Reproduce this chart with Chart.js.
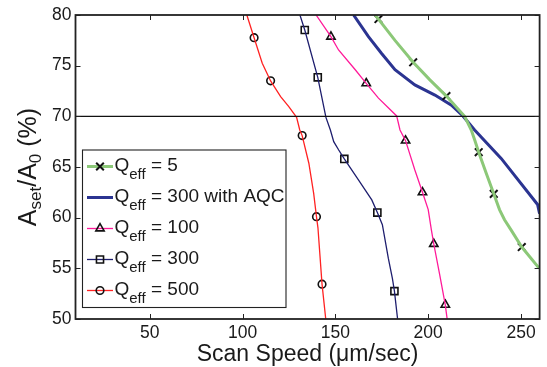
<!DOCTYPE html>
<html>
<head>
<meta charset="utf-8">
<script src="https://cdn.jsdelivr.net/npm/chart.js@4/dist/chart.umd.min.js"></script>
<style>
  html, body { margin: 0; padding: 0; background: #fff; }
  #wrap { width: 547px; height: 367px; }
</style>
</head>
<body>
<div id="wrap"><canvas id="c"></canvas></div>
<script>
// Axis ticks
const xTicks = [50, 100, 150, 200, 250];
const yTicks = [50, 55, 60, 65, 70, 75, 80];
const refLevel = 70;

// Q_eff = 5
const q5X = [171.5, 173.2, 182.1, 191.9, 200.9, 209.8, 219.6, 223.2, 225.0, 227.2, 231.2, 235.3, 238.4, 241.1, 244.6, 250.4, 259.8];
const q5Y = [80.0, 79.6, 77.5, 75.33, 73.6, 72.0, 70.0, 68.65, 67.7, 66.46, 64.4, 62.35, 60.8, 59.8, 58.8, 57.1, 55.0];
const q5MarkX = [173.2, 191.9, 209.8, 227.2, 235.3, 250.4];
const q5MarkY = [79.6, 75.33, 72.0, 66.46, 62.35, 57.1];

// Q_eff = 300 with AQC
const aqcX = [159.8, 167.8, 174.9, 182.1, 192.8, 203.6, 212.5, 218.7, 220.5, 225.0, 239.3, 258.9, 260.0];
const aqcY = [80.0, 77.86, 76.2, 74.6, 73.1, 72.1, 71.1, 70.04, 69.64, 68.65, 65.85, 61.3, 60.4];

// Q_eff = 100
const q100X = [139.6, 147.6, 151.7, 160.7, 166.6, 173.2, 183.0, 184.8, 187.8, 192.8, 196.9, 200.0, 201.7, 203.0, 206.2, 209.2, 210.2];
const q100Y = [80.0, 77.86, 76.55, 74.6, 73.26, 71.8, 70.04, 68.65, 67.6, 64.7, 62.5, 60.8, 58.8, 57.4, 54.35, 51.4, 50.0];
const q100MarkX = [147.6, 166.6, 187.8, 196.9, 203.0, 209.2];
const q100MarkY = [77.86, 73.26, 67.6, 62.5, 57.4, 51.4];

// Q_eff = 300
const q300X = [130.9, 133.5, 140.5, 144.9, 147.3, 149.1, 151.7, 154.8, 162.5, 169.6, 172.6, 175.3, 178.5, 180.7, 181.8, 183.5];
const q300Y = [80.0, 78.52, 73.85, 69.9, 68.65, 67.5, 66.7, 65.8, 63.7, 61.75, 60.5, 59.3, 56.0, 54.0, 52.75, 50.0];
const q300MarkX = [133.5, 140.5, 154.8, 172.6, 181.8];
const q300MarkY = [78.52, 73.85, 65.8, 60.5, 52.75];

// Q_eff = 500
const q500X = [102.3, 106.2, 110.6, 115.1, 120.5, 124.9, 129.1, 130.8, 132.1, 135.7, 138.3, 139.8, 140.6, 142.8, 144.8];
const q500Y = [80.0, 77.76, 75.24, 73.49, 71.94, 70.95, 69.9, 68.65, 68.1, 65.37, 62.4, 60.1, 59.0, 53.44, 50.0];
const q500MarkX = [106.2, 115.1, 132.1, 139.8, 142.8];
const q500MarkY = [77.76, 73.5, 68.1, 60.1, 53.44];

const legendValues = ['5', '300 with AQC', '100', '300', '500'];

const FONT = '"Liberation Sans", Arial, Helvetica, sans-serif';
const INK = '#1a1a1a';

const pts = (xs, ys) => xs.map((v, i) => ({ x: v, y: ys[i] }));

const series = [
  { xs: q5X, ys: q5Y, mx: q5MarkX, my: q5MarkY, color: '#8cc878', width: 3, marker: 'crossRot', r: 5.4, mw: 2 },
  { xs: aqcX, ys: aqcY, mx: null, my: null, color: '#2b3491', width: 3, marker: null, r: 0, mw: 0 },
  { xs: q100X, ys: q100Y, mx: q100MarkX, my: q100MarkY, color: '#ff1a99', width: 1.3, marker: 'triangle', r: 4.8, mw: 1.6 },
  { xs: q300X, ys: q300Y, mx: q300MarkX, my: q300MarkY, color: '#1e1e6e', width: 1.3, marker: 'rect', r: 5.0, mw: 1.6 },
  { xs: q500X, ys: q500Y, mx: q500MarkX, my: q500MarkY, color: '#ff2222', width: 1.3, marker: 'circle', r: 3.8, mw: 1.6 }
];

const datasets = [];
datasets.push({
  type: 'line',
  data: [{ x: 10, y: refLevel }, { x: 260, y: refLevel }],
  borderColor: '#111', borderWidth: 1.3, pointRadius: 0, tension: 0
});
series.forEach(s => {
  datasets.push({
    type: 'line',
    data: pts(s.xs, s.ys),
    borderColor: s.color, borderWidth: s.width,
    pointRadius: 0, tension: 0, fill: false
  });
  if (s.mx) {
    datasets.push({
      type: 'scatter',
      data: pts(s.mx, s.my),
      showLine: false,
      pointStyle: s.marker, pointRadius: s.r, pointHoverRadius: s.r,
      borderColor: '#111', borderWidth: s.mw,
      backgroundColor: 'rgba(0,0,0,0)'
    });
  }
});

function marker(ctx, s, x, y) {
  ctx.save();
  ctx.strokeStyle = '#111';
  ctx.fillStyle = 'rgba(0,0,0,0)';
  ctx.lineWidth = s.mw;
  if (Chart.helpers && Chart.helpers.drawPoint) {
    Chart.helpers.drawPoint(ctx, { pointStyle: s.marker, radius: s.r, rotation: 0, borderWidth: s.mw }, x, y);
  }
  ctx.restore();
}

// Text made of [text, size, baselineShift] pieces laid out left to right
function runWidth(ctx, parts) {
  let w = 0;
  parts.forEach(p => { ctx.font = p[1] + 'px ' + FONT; w += ctx.measureText(p[0]).width; });
  return w;
}
function drawRun(ctx, parts, x, y) {
  parts.forEach(p => {
    ctx.font = p[1] + 'px ' + FONT;
    ctx.fillText(p[0], x, y + p[2]);
    x += ctx.measureText(p[0]).width;
  });
}

const decor = {
  id: 'decor',
  afterDraw(chart) {
    const { ctx, chartArea: a, scales } = chart;
    const xs = scales.x, ys = scales.y;
    ctx.save();

    // inward tick marks on all four sides
    ctx.strokeStyle = '#222';
    ctx.lineWidth = 1;
    ctx.beginPath();
    xTicks.forEach(v => {
      const px = Math.round(xs.getPixelForValue(v)) + 0.5;
      ctx.moveTo(px, a.bottom); ctx.lineTo(px, a.bottom - 5);
      ctx.moveTo(px, a.top); ctx.lineTo(px, a.top + 5);
    });
    yTicks.forEach(v => {
      const py = Math.round(ys.getPixelForValue(v)) + 0.5;
      ctx.moveTo(a.left, py); ctx.lineTo(a.left + 5, py);
      ctx.moveTo(a.right, py); ctx.lineTo(a.right - 5, py);
    });
    ctx.stroke();

    // plot frame
    ctx.lineWidth = 1.8;
    ctx.strokeRect(a.left, a.top, a.right - a.left, a.bottom - a.top);

    ctx.fillStyle = INK;
    ctx.textBaseline = 'alphabetic';
    ctx.textAlign = 'left';

    // x axis title
    ctx.font = '23px ' + FONT;
    ctx.textAlign = 'center';
    ctx.fillText('Scan Speed (\u03bcm/sec)', (a.left + a.right) / 2, 361);
    ctx.textAlign = 'left';

    // y axis title with subscripts
    const yParts = [['A', 25, 0], ['set', 17, 5], ['/A', 25, 0], ['0', 17, 5], [' (%)', 25, 0]];
    const yw = runWidth(ctx, yParts);
    ctx.save();
    ctx.translate(35.5, (a.top + a.bottom) / 2);
    ctx.rotate(-Math.PI / 2);
    drawRun(ctx, yParts, -yw / 2, 0);
    ctx.restore();

    // legend
    const bx = 82.5, by = 150, bw = 203.5, bh = 157.5;
    ctx.fillStyle = '#fff';
    ctx.fillRect(bx, by, bw, bh);
    ctx.strokeStyle = '#222';
    ctx.lineWidth = 1.1;
    ctx.strokeRect(bx, by, bw, bh);
    series.forEach((s, i) => {
      const ry = 166.5 + 31 * i;
      ctx.strokeStyle = s.color;
      ctx.lineWidth = s.width;
      ctx.beginPath();
      ctx.moveTo(87, ry); ctx.lineTo(113, ry);
      ctx.stroke();
      if (s.marker) marker(ctx, s, 100, ry);
      ctx.fillStyle = INK;
      drawRun(ctx, [['Q', 19, 0], ['eff', 15, 8], [' = ' + legendValues[i], 19, 0]], 114.5, ry + 4.5);
    });

    ctx.restore();
  }
};

new Chart(document.getElementById('c'), {
  type: 'line',
  data: { datasets },
  options: {
    responsive: true,
    maintainAspectRatio: false,
    devicePixelRatio: 1,
    animation: false,
    events: [],
    layout: { padding: { left: 0, right: 5.5, top: 15, bottom: 0 } },
    plugins: { legend: { display: false }, tooltip: { enabled: false } },
    scales: {
      x: {
        type: 'linear', min: 10, max: 260,
        afterBuildTicks: s => { s.ticks = xTicks.map(v => ({ value: v })); },
        afterFit: s => { s.height = 48; },
        grid: { display: false, drawTicks: false, tickLength: 0 },
        border: { display: false },
        ticks: { autoSkip: false, maxRotation: 0, padding: 4, color: INK, font: { family: FONT, size: 17.5 } }
      },
      y: {
        type: 'linear', min: 50, max: 80,
        afterBuildTicks: s => { s.ticks = yTicks.map(v => ({ value: v })); },
        afterFit: s => { s.width = 75.5; },
        grid: { display: false, drawTicks: false, tickLength: 0 },
        border: { display: false },
        ticks: { padding: 4, color: INK, font: { family: FONT, size: 17.5 } }
      }
    }
  },
  plugins: [decor]
});
</script>
</body>
</html>
